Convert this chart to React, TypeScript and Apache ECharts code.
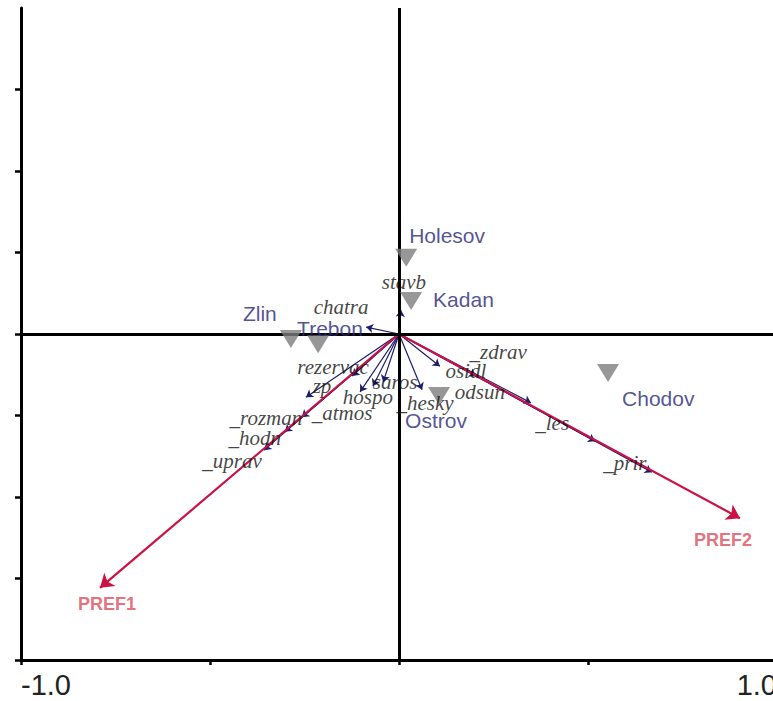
import React, { useEffect, useRef } from 'react';
import * as echarts from 'echarts';

// Sample (site) scores
const siteNames = ['Holesov', 'Kadan', 'Zlin', 'Trebon', 'Chodov', 'Ostrov'];
const siteX = [0.019, 0.032, -0.286, -0.214, 0.553, 0.106];
const siteY = [0.187, 0.081, -0.012, -0.025, -0.096, -0.152];

// Response variable arrows
const varNames = ['chatra', 'stavb', 'rezervac', 'zp', '_rozman', '_hodn', '_uprav', '_atmos', 'hospo', 'saros', '_hesky', 'osidl', '_zdrav', 'odsun', '_les', '_prir'];
const varX = [-0.087, 0.005, -0.124, -0.246, -0.257, -0.302, -0.357, -0.103, -0.069, -0.042, 0.061, 0.108, 0.204, 0.349, 0.519, 0.669];
const varY = [0.017, 0.059, -0.103, -0.155, -0.204, -0.240, -0.285, -0.142, -0.128, -0.118, -0.137, -0.079, -0.103, -0.169, -0.263, -0.339];

// Explanatory variable arrows
const prefNames = ['PREF1', 'PREF2'];
const prefX = [-0.791, 0.902];
const prefY = [-0.623, -0.452];

// Axis ticks
const xTickLabels = ['-1.0', '1.0'];
const yTickValues = [-0.8, -0.6, -0.4, -0.2, 0, 0.2, 0.4, 0.6];

// Label placement (pixels, styling only)
const siteLabelOffsets = [[3, -22], [22, -1], [-48, -25], [-21, -16], [14, 25], [-34, 25]];
const varLabelOffsets = [[-25, -20], [3, -28], [-19, -9], [16, -11], [-36, 1], [-30, 6], [-32, 11], [-18, 21], [-5, 11], [12, 0], [3, 13], [26, 5], [22, -24], [-51, -11], [-43, -18], [-27, -9]];
const prefLabelOffsets = [[7, 16], [-17, 22]];

export default function App() {
  const ref = useRef<HTMLDivElement>(null);
  useEffect(() => {
    if (!ref.current) return;
    const chart = echarts.init(ref.current, undefined, { renderer: 'svg' });
    const option: any = {
      animation: false,
      backgroundColor: '#ffffff',
      grid: { left: 21, top: 8, width: 756, height: 652, containLabel: false, outerBoundsMode: 'none' },
      xAxis: {
        type: 'value',
        min: -1,
        max: 1,
        interval: 0.5,
        position: 'bottom',
        axisLine: { onZero: false, lineStyle: { color: '#000', width: 3 } },
        axisTick: { show: true, length: 5, lineStyle: { color: '#000', width: 2.5 } },
        axisLabel: {
          margin: 12,
          fontFamily: 'Liberation Sans, Arial, sans-serif',
          fontSize: 29,
          lineHeight: 26,
          color: '#222',
          alignMinLabel: 'left',
          alignMaxLabel: 'right',
          hideOverlap: false,
          formatter: (v: number) => (v === -1 ? xTickLabels[0] : v === 1 ? xTickLabels[1] : ''),
        },
        splitLine: { show: false },
      },
      yAxis: {
        type: 'value',
        min: -0.8,
        max: 0.8,
        position: 'left',
        axisLine: { onZero: false, lineStyle: { color: '#000', width: 3 } },
        axisTick: { show: true, length: 6, customValues: yTickValues, lineStyle: { color: '#000', width: 2.5 } },
        axisLabel: { show: false },
        splitLine: { show: false },
      },
      series: [
        {
          type: 'scatter',
          name: 'zero',
          data: [],
          silent: true,
          markLine: {
            silent: true,
            symbol: ['none', 'none'],
            label: { show: false },
            lineStyle: { color: '#000', width: 3, type: 'solid' },
            data: [{ xAxis: 0 }, { yAxis: 0 }],
          },
          z: 1,
        },
        {
          type: 'lines',
          coordinateSystem: 'cartesian2d',
          polyline: false,
          symbol: ['none', 'arrow'],
          symbolSize: 7,
          lineStyle: { color: '#1c1c70', width: 1.2, opacity: 1 },
          data: varNames.map((n, i) => ({ name: n, coords: [[0, 0], [varX[i], varY[i]]] })),
          z: 3,
        },
        {
          type: 'lines',
          coordinateSystem: 'cartesian2d',
          polyline: false,
          symbol: ['none', 'arrow'],
          symbolSize: 13,
          lineStyle: { color: '#cc1144', width: 2.2, opacity: 1 },
          data: prefNames.map((n, i) => ({ name: n, coords: [[0, 0], [prefX[i], prefY[i]]] })),
          z: 4,
        },
        {
          type: 'scatter',
          name: 'sites',
          symbol: 'triangle',
          symbolRotate: 180,
          symbolSize: [22, 18],
          itemStyle: { color: '#7d7d7d' },
          data: siteNames.map((n, i) => ({
            name: n,
            value: [siteX[i], siteY[i]],
            label: { offset: siteLabelOffsets[i] },
          })),
          label: {
            show: true,
            position: 'inside',
            align: 'left',
            verticalAlign: 'middle',
            formatter: '{b}',
            fontFamily: 'Liberation Sans, Arial, sans-serif',
            fontSize: 21,
            color: '#26267a',
          },
          z: 5,
        },
        {
          type: 'scatter',
          name: 'varLabels',
          symbolSize: 0.1,
          itemStyle: { color: 'rgba(0,0,0,0)' },
          data: varNames.map((n, i) => ({
            name: n,
            value: [varX[i], varY[i]],
            label: { offset: varLabelOffsets[i] },
          })),
          label: {
            show: true,
            position: 'inside',
            align: 'center',
            verticalAlign: 'middle',
            formatter: '{b}',
            fontFamily: 'Liberation Serif, Times New Roman, serif',
            fontStyle: 'italic',
            fontSize: 21,
            color: '#111111',
          },
          z: 6,
        },
        {
          type: 'scatter',
          name: 'prefLabels',
          symbolSize: 0.1,
          itemStyle: { color: 'rgba(0,0,0,0)' },
          data: prefNames.map((n, i) => ({
            name: n,
            value: [prefX[i], prefY[i]],
            label: { offset: prefLabelOffsets[i] },
          })),
          label: {
            show: true,
            position: 'inside',
            align: 'center',
            verticalAlign: 'middle',
            formatter: '{b}',
            fontFamily: 'Liberation Sans, Arial, sans-serif',
            fontWeight: 'bold',
            fontSize: 18,
            color: '#e04a5c',
          },
          z: 6,
        },
      ],
    };
    chart.setOption(option);
    return () => chart.dispose();
  }, []);
  return (
    <div
      ref={ref}
      style={{ position: 'fixed', left: 0, top: 0, width: 773, height: 701, background: '#fff' }}
    />
  );
}
